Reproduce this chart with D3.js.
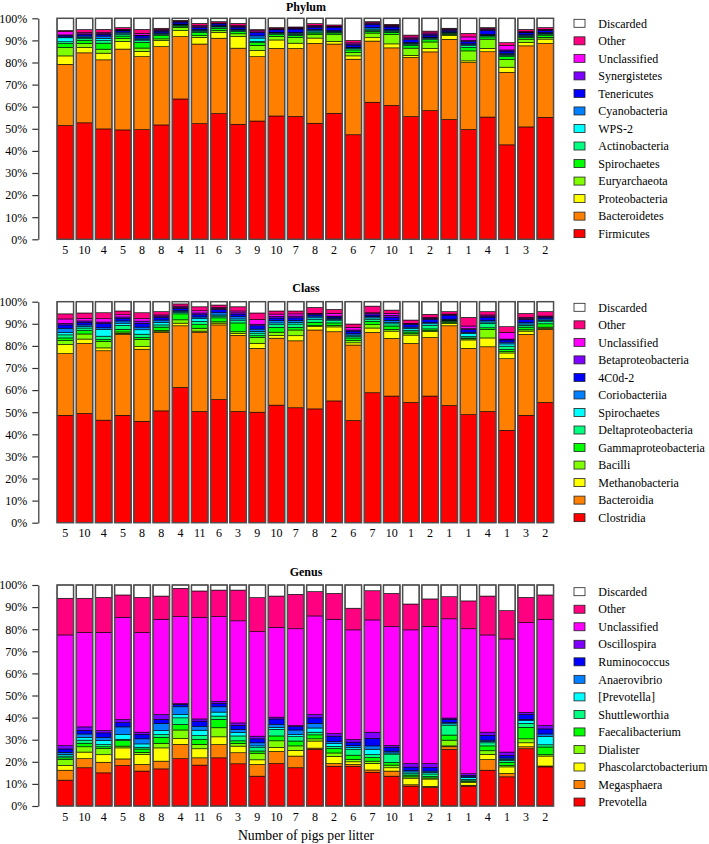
<!DOCTYPE html>
<html><head><meta charset="utf-8">
<script src="https://cdn.jsdelivr.net/npm/d3@7"></script>
<style>
html,body{margin:0;padding:0;background:#fff;}
svg{display:block;font-family:"Liberation Serif","Times New Roman",serif;}
</style></head><body>
<svg id="chart" width="709" height="844"></svg>
<script>
// ---------- DATA ----------
const litterSizes = [5,10,4,5,8,8,4,11,6,3,9,10,7,8,2,6,7,10,1,2,1,1,4,1,3,2];
const yTickPercents = [0,10,20,30,40,50,60,70,80,90,100];

// series listed bottom -> top of each stacked bar
const phylumTaxa = ["Firmicutes","Bacteroidetes","Proteobacteria","Euryarchaeota","Spirochaetes","Actinobacteria","WPS-2","Cyanobacteria","Tenericutes","Synergistetes","Unclassified","Other","Discarded"];
const classTaxa = ["Clostridia","Bacteroidia","Methanobacteria","Bacilli","Gammaproteobacteria","Deltaproteobacteria","Spirochaetes","Coriobacteriia","4C0d-2","Betaproteobacteria","Unclassified","Other","Discarded"];
const genusTaxa = ["Prevotella","Megasphaera","Phascolarctobacterium","Dialister","Faecalibacterium","Shuttleworthia","[Prevotella]","Anaerovibrio","Ruminococcus","Oscillospira","Unclassified","Other","Discarded"];

const taxonColors = ["#FF0000","#FF8000","#FFFF00","#80FF00","#00FF00","#00FF80","#00FFFF","#0080FF","#0000FF","#8000FF","#FF00FF","#FF0080","#FFFFFF"];

// percent per sample (one row per bar, values in taxa order)
const phylumValues = [
 [51.4,27.7,3.8,3.8,1.8,0.8,1.8,0.4,0.6,0.3,1.5,0.5,5.5],
 [52.6,31.6,2.4,1.8,1.5,0.8,0.5,0.6,0.6,0.4,0.5,1.4,5.1],
 [49.7,31.1,3.0,1.8,2.7,1.2,1.0,1.0,0.8,0.3,0.5,1.4,5.0],
 [49.4,36.5,3.5,1.2,1.2,0.6,0.7,0.5,0.6,0.3,0.3,0.8,4.2],
 [49.4,32.9,2.4,1.5,2.5,0.8,0.6,0.6,1.0,0.3,0.8,1.8,5.0],
 [51.7,35.4,2.7,0.8,1.5,0.6,0.3,0.3,0.8,0.4,0.3,0.6,4.5],
 [63.5,28.2,2.7,1.5,0.6,0.4,0.2,0.3,0.9,0.2,0.2,0.4,0.9],
 [52.1,35.9,3.0,0.8,1.4,0.6,0.4,0.4,0.8,0.5,0.4,1.0,2.3],
 [56.8,34.1,2.7,0.8,1.0,0.6,0.3,0.3,0.8,0.2,0.2,0.6,1.5],
 [52.0,34.4,5.3,1.2,1.0,0.4,0.3,0.4,0.9,0.4,0.3,1.0,2.3],
 [53.3,29.0,2.8,2.3,1.2,0.6,1.5,1.0,1.5,0.3,0.5,0.5,5.1],
 [55.8,30.6,3.8,1.6,0.8,0.5,0.3,0.3,1.1,0.3,0.2,0.5,4.2],
 [55.3,30.6,2.4,2.5,1.0,0.5,0.5,0.4,1.5,0.3,0.2,0.4,3.9],
 [52.3,36.0,2.4,1.5,0.8,0.5,0.5,0.6,1.0,0.4,0.4,0.8,2.4],
 [56.8,31.2,1.2,3.0,0.8,0.4,0.3,0.3,1.5,0.3,0.2,0.6,3.0],
 [47.3,34.2,1.5,1.5,1.2,0.6,0.3,0.3,1.0,0.5,0.5,1.1,10.0],
 [61.4,27.4,1.5,2.1,0.8,0.5,0.5,0.6,1.5,0.4,0.3,0.5,1.5],
 [60.2,25.9,1.8,4.2,1.0,0.5,0.3,0.4,1.2,0.4,0.3,0.5,2.7],
 [55.5,26.8,0.9,3.3,1.2,0.6,0.4,0.4,1.2,0.6,0.6,0.9,7.6],
 [58.2,26.6,1.5,3.0,1.0,0.6,0.3,0.3,0.9,0.5,0.5,0.8,5.8],
 [54.2,36.3,1.7,0.5,0.4,0.3,0.2,0.3,0.7,0.3,0.3,0.3,4.5],
 [49.5,30.2,0.8,4.5,1.5,0.9,0.4,0.4,1.0,0.6,1.5,1.6,6.8],
 [55.2,29.5,1.5,4.2,1.0,0.5,0.3,0.4,1.8,0.4,0.3,0.5,4.2],
 [42.7,32.8,2.3,3.5,1.3,0.6,0.4,0.5,1.0,0.5,2.0,1.3,11.0],
 [50.6,36.5,1.5,1.5,0.8,0.5,0.3,0.4,0.9,0.3,0.2,1.0,5.0],
 [55.2,33.4,2.0,0.8,1.0,0.5,0.3,0.3,0.9,0.3,0.3,0.8,4.2]
];
const classValues = [
 [48.6,27.9,4.1,1.8,1.2,1.4,1.0,2.0,1.5,0.7,2.0,2.3,5.5],
 [49.4,31.7,2.0,2.3,1.5,1.2,0.6,0.8,1.2,0.6,1.2,2.4,5.1],
 [46.4,31.4,1.3,3.0,0.8,1.5,3.0,0.8,2.0,0.6,1.5,2.7,5.0],
 [48.6,36.7,0.4,0.6,1.2,1.8,1.0,1.0,1.2,0.6,1.0,1.7,4.2],
 [45.9,32.6,1.2,3.3,0.8,1.5,2.0,1.2,1.7,1.0,1.2,2.6,5.0],
 [50.6,35.5,0.3,0.6,1.5,1.0,1.2,1.0,1.2,0.6,0.5,1.5,4.5],
 [61.2,27.9,1.2,1.5,2.7,0.6,0.4,0.5,1.0,0.5,0.5,1.0,1.0],
 [50.3,35.9,0.5,1.3,1.6,1.5,1.2,0.8,1.0,0.8,1.0,1.8,2.3],
 [55.7,33.8,0.8,0.6,1.8,0.8,0.5,1.0,1.5,0.5,0.4,1.1,1.5],
 [50.3,34.5,0.8,0.8,4.0,1.0,0.8,1.0,1.2,0.6,0.8,1.9,2.3],
 [50.0,28.9,2.3,2.6,0.8,1.2,0.8,1.0,1.5,0.7,2.2,2.9,5.1],
 [53.2,30.3,1.2,1.5,2.2,1.2,0.8,1.0,1.2,0.8,1.0,1.4,4.2],
 [52.0,30.3,2.3,2.6,1.2,1.5,0.8,0.8,1.2,0.8,1.0,1.3,4.2],
 [51.5,35.7,1.5,0.5,1.5,1.2,0.8,0.8,0.7,0.3,0.2,2.7,2.6],
 [55.1,31.3,2.2,0.6,1.2,1.0,0.5,0.6,0.6,0.4,1.2,1.8,3.5],
 [46.2,34.2,1.0,1.0,1.2,0.8,0.5,0.6,1.2,0.5,1.2,1.5,10.1],
 [58.8,27.3,2.0,1.5,1.5,1.0,0.6,0.6,0.7,0.8,0.2,3.0,2.0],
 [57.3,26.1,3.3,0.8,1.5,1.0,0.7,0.8,1.5,0.8,0.9,1.5,3.8],
 [54.4,26.7,3.8,0.6,0.8,0.8,0.8,0.6,1.2,0.3,0.2,1.5,8.3],
 [57.3,26.5,2.7,0.4,0.8,1.5,0.8,0.6,1.5,0.4,0.4,1.4,5.7],
 [53.0,36.1,1.0,0.4,0.5,0.4,0.3,0.4,1.8,0.3,0.2,1.1,4.5],
 [48.9,30.0,3.8,0.5,0.4,0.6,1.5,0.5,1.2,0.4,1.2,3.9,7.1],
 [50.3,29.3,4.0,3.8,0.8,2.0,0.6,0.6,1.6,0.5,0.5,1.5,4.5],
 [41.8,32.4,2.6,0.6,1.0,1.5,1.0,0.8,1.0,0.4,3.0,2.6,11.3],
 [48.6,36.6,1.5,0.6,1.2,0.8,0.6,0.6,1.5,0.5,0.4,1.8,5.3],
 [54.4,33.1,0.5,0.5,1.5,1.0,0.6,0.6,0.8,0.3,0.2,2.0,4.5]
];
const genusValues = [
 [11.7,4.5,2.1,2.7,0.8,0.8,0.7,1.0,1.5,1.5,50.1,16.6,6.0],
 [17.3,4.1,3.0,2.4,1.6,1.4,1.2,1.6,1.6,1.6,42.7,15.5,6.0],
 [15.0,4.8,3.4,2.8,0.8,1.0,1.8,1.5,2.0,1.0,44.5,15.8,5.6],
 [18.3,3.0,5.0,0.8,2.5,0.6,2.1,3.5,1.9,1.4,46.3,10.1,4.5],
 [15.8,3.0,4.5,1.0,1.5,0.8,1.5,2.3,2.0,1.0,45.1,15.9,5.6],
 [16.8,3.5,6.0,2.1,2.7,1.2,1.8,3.3,1.8,2.2,43.1,10.5,5.0],
 [21.4,6.5,2.6,3.9,2.5,3.0,1.5,3.5,1.1,0.3,39.4,12.8,1.5],
 [18.5,3.3,4.1,2.0,2.2,1.8,2.4,1.8,2.3,1.0,46.0,11.9,2.7],
 [21.8,6.0,3.5,4.1,3.8,1.5,1.8,2.4,1.5,1.0,38.3,12.0,2.3],
 [19.1,5.0,3.0,1.2,1.2,2.2,1.5,1.5,1.8,1.1,46.2,13.9,2.3],
 [13.5,5.3,2.1,3.0,1.0,1.5,0.8,1.4,1.8,1.2,47.3,15.4,5.7],
 [19.2,5.5,1.8,3.0,2.2,3.0,0.8,1.5,2.4,0.8,40.6,14.2,5.0],
 [17.3,5.3,2.6,2.0,2.2,2.0,1.0,2.0,1.5,0.5,43.8,15.6,4.2],
 [25.6,0.6,3.2,1.0,1.8,1.2,1.9,2.1,2.5,1.5,44.6,11.0,3.0],
 [18.0,1.2,3.3,1.5,2.0,1.0,1.2,1.0,2.4,1.2,51.7,11.7,3.8],
 [18.0,0.8,1.2,1.0,2.0,2.7,0.8,0.8,1.6,1.2,49.6,9.8,10.5],
 [15.3,1.0,3.0,1.0,1.6,1.4,2.4,1.5,3.4,2.8,50.8,13.2,2.6],
 [13.5,2.3,1.5,1.2,1.2,3.8,0.5,0.8,1.8,0.8,53.8,15.0,3.8],
 [9.0,0.6,3.0,0.6,0.8,0.6,0.8,0.6,1.6,1.6,60.5,11.7,8.6],
 [8.3,0.6,3.3,0.5,0.6,1.2,0.7,0.6,1.6,1.8,62.0,12.5,6.3],
 [25.6,1.2,0.4,2.6,2.3,4.5,0.6,0.6,1.5,0.5,44.9,10.0,5.3],
 [9.0,0.4,1.2,0.4,0.4,0.6,0.8,0.4,0.6,0.8,65.6,12.6,7.2],
 [16.2,4.8,2.4,1.6,2.2,1.4,0.6,0.6,2.2,1.4,44.0,17.6,5.0],
 [13.2,1.5,3.0,0.6,1.5,0.8,0.5,0.6,1.2,1.5,51.2,12.8,11.6],
 [25.9,0.9,1.8,1.8,5.2,1.8,1.2,0.6,2.2,1.0,40.6,11.4,5.6],
 [17.7,0.4,4.5,0.6,3.5,1.0,3.8,1.1,2.3,1.5,48.1,11.0,4.5]
];

// ---------- LAYOUT ----------
const FONT = '"Liberation Serif","Times New Roman",serif';
const panelLayout = [
  {title:"Phylum", taxa:phylumTaxa, values:phylumValues, top:18.3, titleY:10.5, legendTop:23.3},
  {title:"Class",  taxa:classTaxa,  values:classValues,  top:301.7, titleY:292.2, legendTop:307.3},
  {title:"Genus",  taxa:genusTaxa,  values:genusValues,  top:585.0, titleY:575.6, legendTop:591.7}
];
const plotH = 221;
const axisX = 38.3;
const legendStep = 17.53;

const svg = d3.select("#chart");
const x = d3.scaleBand()
  .domain(d3.range(litterSizes.length))
  .range([55.7, 554.9])
  .paddingInner(0.14)
  .paddingOuter(0.07);

panelLayout.forEach(p => {
  const g = svg.append("g");
  const y = d3.scaleLinear().domain([0, 1]).range([p.top + plotH, p.top]);
  const keys = d3.range(p.taxa.length);
  const stacked = d3.stack()
    .keys(keys)
    .value((row, k) => row[k])
    .offset(d3.stackOffsetExpand)(p.values);

  g.append("g").selectAll("g").data(stacked).join("g")
    .attr("fill", (d, i) => taxonColors[i])
    .selectAll("rect").data(d => d.map((s, j) => ({s, j}))).join("rect")
      .attr("x", d => x(d.j))
      .attr("width", x.bandwidth())
      .attr("y", d => y(d.s[1]))
      .attr("height", d => Math.max(0, y(d.s[0]) - y(d.s[1])))
      .attr("stroke", "#000")
      .attr("stroke-width", 0.6);

  // bar outlines
  g.append("g").selectAll("rect").data(p.values).join("rect")
    .attr("x", (d, i) => x(i))
    .attr("width", x.bandwidth())
    .attr("y", y(1))
    .attr("height", y(0) - y(1))
    .attr("fill", "none")
    .attr("stroke", "#4d4d4d")
    .attr("stroke-width", 1.5);

  // y axis
  const ax = g.append("g")
    .attr("transform", `translate(${axisX},0)`)
    .call(d3.axisLeft(y)
      .tickValues(yTickPercents.map(v => v / 100))
      .tickFormat(d3.format(".0%"))
      .tickSize(6).tickSizeOuter(0).tickPadding(5));
  ax.attr("font-family", FONT).attr("font-size", 12);
  ax.selectAll("path,line").attr("stroke", "#333").attr("stroke-width", 1.2);
  ax.selectAll("text").attr("fill", "#000");

  // x labels
  const bx = g.append("g")
    .attr("transform", `translate(0,${p.top + plotH})`)
    .call(d3.axisBottom(x).tickFormat(i => litterSizes[i]).tickSize(0).tickPadding(6));
  bx.select(".domain").remove();
  bx.attr("font-family", FONT).attr("font-size", 12);
  bx.selectAll("text").attr("fill", "#000");

  // title
  g.append("text")
    .attr("x", 306).attr("y", p.titleY)
    .attr("text-anchor", "middle")
    .attr("font-family", FONT).attr("font-size", 12).attr("font-weight", "bold")
    .text(p.title);

  // legend (top entry = top of stack)
  const legendItems = keys.slice().reverse();
  const lg = g.append("g").selectAll("g").data(legendItems).join("g")
    .attr("transform", (k, i) => `translate(0,${p.legendTop + i * legendStep})`);
  lg.append("rect")
    .attr("x", 574).attr("y", -4).attr("width", 11).attr("height", 8)
    .attr("fill", k => taxonColors[k]).attr("stroke", "#222").attr("stroke-width", 0.8);
  lg.append("text")
    .attr("x", 598.3).attr("y", 0).attr("dy", "0.35em")
    .attr("font-family", FONT).attr("font-size", 12).attr("fill", "#000")
    .text(k => p.taxa[k]);
});

svg.append("text")
  .attr("x", 306).attr("y", 840)
  .attr("text-anchor", "middle")
  .attr("font-family", FONT).attr("font-size", 13.7).attr("fill", "#000")
  .text("Number of pigs per litter");
</script>
</body></html>
